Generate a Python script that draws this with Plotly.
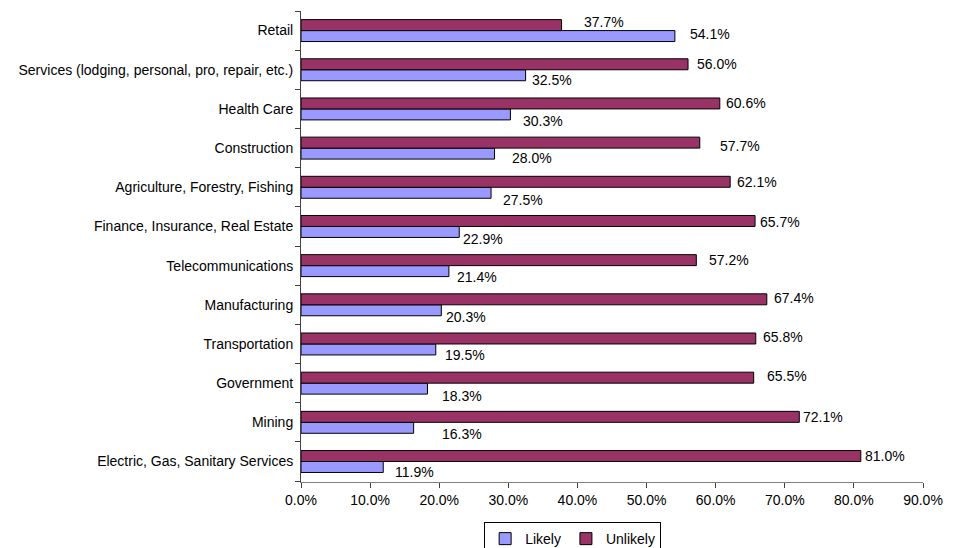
import plotly.graph_objects as go

# ---- data (top-to-bottom as shown) ----
categories = [
    "Retail",
    "Services (lodging, personal, pro, repair, etc.)",
    "Health Care",
    "Construction",
    "Agriculture, Forestry, Fishing",
    "Finance, Insurance, Real Estate",
    "Telecommunications",
    "Manufacturing",
    "Transportation",
    "Government",
    "Mining",
    "Electric, Gas, Sanitary Services",
]
likely = [54.1, 32.5, 30.3, 28.0, 27.5, 22.9, 21.4, 20.3, 19.5, 18.3, 16.3, 11.9]
unlikely = [37.7, 56.0, 60.6, 57.7, 62.1, 65.7, 57.2, 67.4, 65.8, 65.5, 72.1, 81.0]
x_ticks = [0, 10, 20, 30, 40, 50, 60, 70, 80, 90]

# ---- label placement styles (pixel nudges, as in the original) ----
unl_gap = [22, 9, 6, 20, 7, 5, 13, 7, 7, 13, 4, 4]
unl_dy = [-3, 0, 0, 3, 0, 1, 0, -1, -1, -2, 0, 0]
lik_gap = [15, 6, 13, 17, 12, 4, 8, 5, 9, 15, 28, 12]
lik_dy = [-2, 5, 7, 4, 7, 7, 6, 7, 6, 7, 6, 5]

FONT = "Liberation Sans, Arial, sans-serif"
FS = 14
BAR_HALF = 5.5  # half bar thickness offset in px

fig = go.Figure()
fig.add_trace(go.Bar(
    y=categories, x=likely, name="Likely", orientation="h",
    marker=dict(color="#9999FF", line=dict(color="#000000", width=1)),
))
fig.add_trace(go.Bar(
    y=categories, x=unlikely, name="Unlikely", orientation="h",
    marker=dict(color="#993366", line=dict(color="#000000", width=1)),
))

annotations = []
for i, c in enumerate(categories):
    annotations.append(dict(
        x=unlikely[i], y=c, xref="x", yref="y", text=f"{unlikely[i]:.1f}%",
        showarrow=False, xanchor="left", yanchor="middle",
        xshift=unl_gap[i] - 2, yshift=BAR_HALF - unl_dy[i],
        font=dict(family=FONT, size=FS, color="#000000"),
    ))
    annotations.append(dict(
        x=likely[i], y=c, xref="x", yref="y", text=f"{likely[i]:.1f}%",
        showarrow=False, xanchor="left", yanchor="middle",
        xshift=lik_gap[i] - 2, yshift=-BAR_HALF - lik_dy[i],
        font=dict(family=FONT, size=FS, color="#000000"),
    ))

fig.update_layout(
    width=956, height=548,
    margin=dict(l=293, r=41, t=3, b=74, autoexpand=False),
    paper_bgcolor="white", plot_bgcolor="white",
    barmode="group", bargap=0.44, bargroupgap=0,
    font=dict(family=FONT, size=FS, color="#000000"),
    showlegend=True,
    legend=dict(
        orientation="h", x=0.4367, xanchor="center", y=-0.085, yanchor="top",
        bordercolor="#000000", borderwidth=1, bgcolor="white",
        font=dict(family=FONT, size=FS, color="#000000"),
        itemwidth=30, traceorder="normal",
    ),
    annotations=annotations,
)
fig.update_xaxes(
    range=[0, 90], tickvals=x_ticks,
    ticktext=[f"{v:.1f}%" for v in x_ticks],
    showgrid=False, zeroline=False, automargin=False,
    showline=True, linecolor="#808080", linewidth=1,
    ticks="outside", ticklen=5, tickcolor="#404040",
    tickfont=dict(family=FONT, size=FS, color="#000000"),
)
fig.update_yaxes(
    type="category", categoryorder="array", categoryarray=categories[::-1],
    showgrid=False, zeroline=False, automargin=False,
    showline=True, linecolor="#404040", linewidth=1,
    ticks="outside", ticklen=5, tickcolor="#404040", tickson="boundaries",
    ticklabelstandoff=4,
    tickfont=dict(family=FONT, size=FS, color="#000000"),
)

fig.write_html("out.html")
